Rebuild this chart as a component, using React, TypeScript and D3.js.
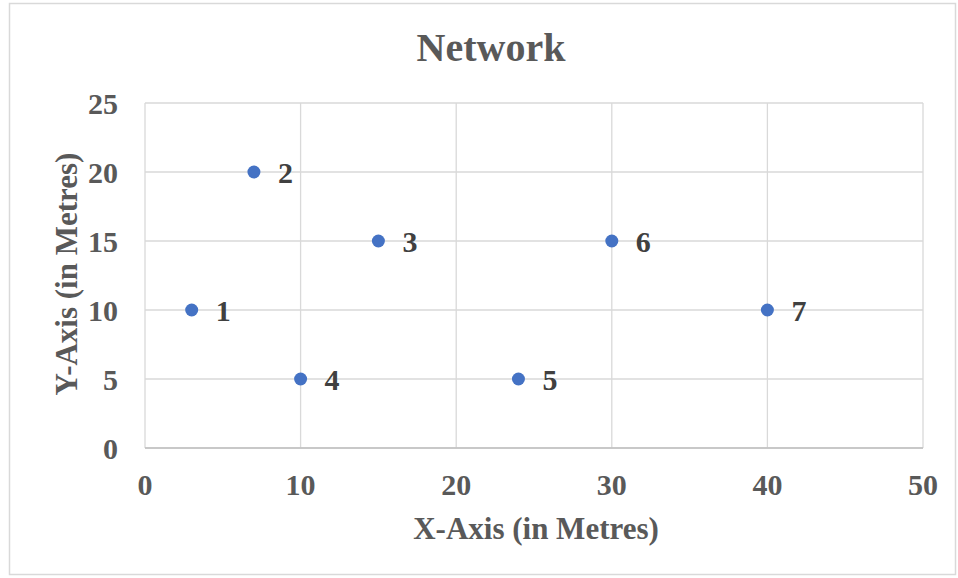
import React from "react";
import * as d3 from "d3";

// Node positions in metres
const nodeIds = ["1", "2", "3", "4", "5", "6", "7"];
const xValues = [3, 7, 15, 10, 24, 30, 40];
const yValues = [10, 20, 15, 5, 5, 15, 10];

const xTicks = [0, 10, 20, 30, 40, 50];
const yTicks = [0, 5, 10, 15, 20, 25];

const chartTitle = "Network";
const xTitle = "X-Axis (in Metres)";
const yTitle = "Y-Axis (in Metres)";

const W = 958;
const H = 578;
const plot = { left: 145, right: 923, top: 103, bottom: 448 };
const FONT = "'Liberation Serif', 'Times New Roman', serif";
const TEXT = "#595959";
const GRID = "#d9d9d9";
const DOT = "#4472C4";

export default function App() {
  const x = d3.scaleLinear().domain([0, 50]).range([plot.left, plot.right]);
  const y = d3.scaleLinear().domain([0, 25]).range([plot.bottom, plot.top]);

  const points = nodeIds.map((id, i) => ({ id, x: xValues[i], y: yValues[i] }));

  return (
    <svg
      width={W}
      height={H}
      style={{ position: "absolute", left: 0, top: 0, background: "#fff" }}
      fontFamily={FONT}
    >
      <rect x={0} y={0} width={W} height={H} fill="#fff" />
      <rect x={9.5} y={3.5} width={946} height={571} fill="none" stroke={GRID} strokeWidth={1.5} />

      {/* grid */}
      {yTicks.map((t) => (
        <line key={"gy" + t} x1={plot.left} x2={plot.right} y1={y(t)} y2={y(t)} stroke={GRID} strokeWidth={1.3} />
      ))}
      {xTicks.map((t) => (
        <line key={"gx" + t} x1={x(t)} x2={x(t)} y1={plot.top} y2={plot.bottom} stroke={GRID} strokeWidth={1.3} />
      ))}
      <line x1={plot.left} x2={plot.right} y1={plot.bottom} y2={plot.bottom} stroke="#bfbfbf" strokeWidth={1.5} />

      {/* tick labels */}
      {yTicks.map((t) => (
        <text key={"ty" + t} x={118} y={y(t)} dy="0.35em" textAnchor="end" fontSize={30} fontWeight="bold" fill={TEXT}>
          {t}
        </text>
      ))}
      {xTicks.map((t) => (
        <text key={"tx" + t} x={x(t)} y={495} textAnchor="middle" fontSize={30} fontWeight="bold" fill={TEXT}>
          {t}
        </text>
      ))}

      {/* titles */}
      <text x={491} y={61} textAnchor="middle" fontSize={40} fontWeight="bold" fill={TEXT}>
        {chartTitle}
      </text>
      <text x={536} y={539} textAnchor="middle" fontSize={31} fontWeight="bold" fill={TEXT}>
        {xTitle}
      </text>
      <text
        transform={`translate(77,${274}) rotate(-90)`}
        textAnchor="middle"
        fontSize={31}
        fontWeight="bold"
        fill={TEXT}
      >
        {yTitle}
      </text>

      {/* nodes */}
      {points.map((p) => (
        <g key={p.id}>
          <circle cx={x(p.x)} cy={y(p.y)} r={6.5} fill={DOT} />
          <text x={x(p.x) + 24} y={y(p.y)} dy="0.35em" fontSize={30} fontWeight="bold" fill="#404040">
            {p.id}
          </text>
        </g>
      ))}
    </svg>
  );
}
